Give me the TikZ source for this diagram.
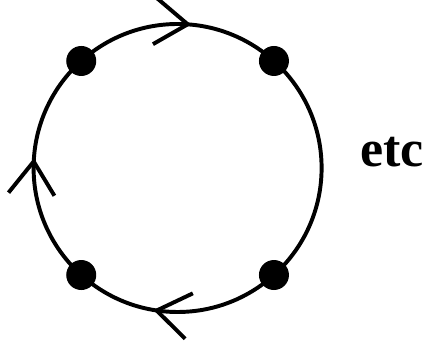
\documentclass[tikz,border=0pt]{standalone}
\usepackage{fontspec}
\setmainfont{Liberation Serif}
\usetikzlibrary{arrows.meta,decorations.markings,positioning}

\tikzset{
  loopline/.style={line width=2.8pt},
  dot/.style={circle,fill=black,inner sep=0pt,minimum size=0.75cm},
  vhead/.style={line width=2.8pt},
}

\begin{document}
\begin{tikzpicture}
			\useasboundingbox (0,0) rectangle (10.725,8.575);
			% Centre of the loop
			\coordinate (c) at (4.44,4.375);
			% Loop, run clockwise, with open heads
			\draw[loopline,
				decoration={markings,
					mark=at position 0.277 with {\arrow[vhead]{Straight Barb[length=0.82cm,width=1.15cm]}},
					mark=at position 0.511 with {\arrow[vhead]{Straight Barb[length=0.82cm,width=1.15cm]}},
					mark=at position 0.765 with {\arrow[vhead]{Straight Barb[length=0.82cm,width=1.15cm]}}},
				postaction={decorate}]
				([shift={(0:3.6)}]c) arc[start angle=0,end angle=-360,radius=3.6];
			% Marked points on the loop
			\node[dot] (pNE) at ([shift={(48:3.6)}]c) {};
			\node[dot] (pNW) at ([shift={(132:3.6)}]c) {};
			\node[dot] (pSW) at ([shift={(228:3.6)}]c) {};
			\node[dot] (pSE) at ([shift={(312:3.6)}]c) {};
			% Label
			\node[anchor=base,font=\bfseries\fontsize{37}{40}\selectfont,inner sep=0pt] (etc) at (9.8,4.4) {etc};
		\end{tikzpicture}
\end{document}
